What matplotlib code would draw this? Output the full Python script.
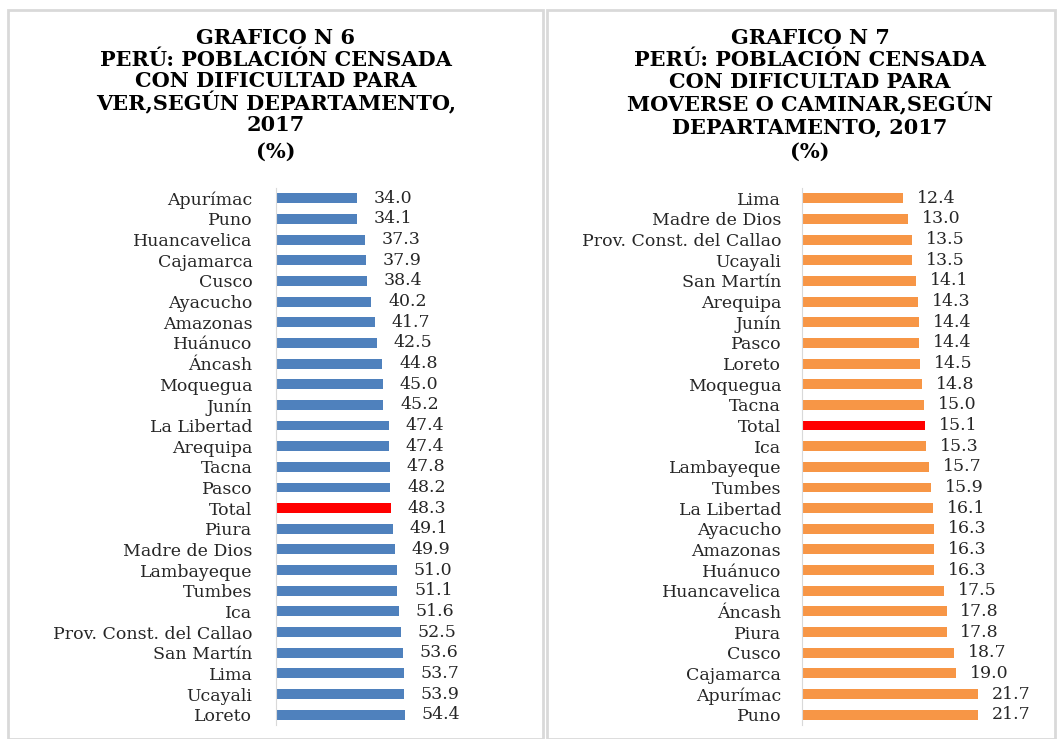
import matplotlib
matplotlib.use('Agg')
import matplotlib.pyplot as plt
from matplotlib.patches import Rectangle

# data, top to bottom as in the picture
ver_deptos = ["Apurímac", "Puno", "Huancavelica", "Cajamarca", "Cusco", "Ayacucho",
              "Amazonas", "Huánuco", "Áncash", "Moquegua", "Junín", "La Libertad",
              "Arequipa", "Tacna", "Pasco", "Total", "Piura", "Madre de Dios",
              "Lambayeque", "Tumbes", "Ica", "Prov. Const. del Callao", "San Martín",
              "Lima", "Ucayali", "Loreto"]
ver_pct = [34.0, 34.1, 37.3, 37.9, 38.4, 40.2, 41.7, 42.5, 44.8, 45.0, 45.2, 47.4,
           47.4, 47.8, 48.2, 48.3, 49.1, 49.9, 51.0, 51.1, 51.6, 52.5, 53.6, 53.7,
           53.9, 54.4]

mov_deptos = ["Lima", "Madre de Dios", "Prov. Const. del Callao", "Ucayali", "San Martín",
              "Arequipa", "Junín", "Pasco", "Loreto", "Moquegua", "Tacna", "Total", "Ica",
              "Lambayeque", "Tumbes", "La Libertad", "Ayacucho", "Amazonas", "Huánuco",
              "Huancavelica", "Áncash", "Piura", "Cusco", "Cajamarca", "Apurímac", "Puno"]
mov_pct = [12.4, 13.0, 13.5, 13.5, 14.1, 14.3, 14.4, 14.4, 14.5, 14.8, 15.0, 15.1, 15.3,
           15.7, 15.9, 16.1, 16.3, 16.3, 16.3, 17.5, 17.8, 17.8, 18.7, 19.0, 21.7, 21.7]

title_ver = ["GRAFICO N 6", "PERÚ: POBLACIÓN CENSADA", "CON DIFICULTAD PARA",
             "VER,SEGÚN DEPARTAMENTO,", "2017", "(%)"]
title_mov = ["GRAFICO N 7", "PERÚ: POBLACIÓN CENSADA", "CON DIFICULTAD PARA",
             "MOVERSE O CAMINAR,SEGÚN", "DEPARTAMENTO, 2017", "(%)"]

W, H = 1059, 739
BLUE = '#4F81BD'
ORANGE = '#F79646'
RED = '#FF0000'
TXT = '#262626'
SERIF = ['DejaVu Serif']

fig = plt.figure(figsize=(W / 100, H / 100), dpi=100)


def px_box(x0, y0, x1, y1):
    # pixel box (top-left origin) -> figure fraction rect
    return [x0 / W, 1 - y1 / H, (x1 - x0) / W, (y1 - y0) / H]


# panel frames
for x0, x1 in [(8, 543), (547, 1055)]:
    fig.patches.append(Rectangle((x0 / W, 0), (x1 - x0) / W, 1 - 10 / H,
                                 transform=fig.transFigure, fill=False,
                                 edgecolor='#d9d9d9', linewidth=2))


def draw_panel(box, names, vals, color, xmax, pad, off, title_lines, cx, title_y):
    ax = fig.add_axes(px_box(*box))
    ypos = list(range(len(names)))
    colors = [RED if n == "Total" else color for n in names]
    ax.barh(ypos, vals, height=0.48, color=colors)
    ax.set_ylim(len(names) - 0.5, -0.5)
    ax.set_xlim(0, xmax)
    ax.set_yticks(ypos)
    ax.set_yticklabels(names, family=SERIF, fontsize=12.5, color=TXT)
    ax.tick_params(axis='y', length=0, pad=pad)
    ax.set_xticks([])
    for s in ['top', 'right', 'bottom']:
        ax.spines[s].set_visible(False)
    ax.spines['left'].set_color('#d9d9d9')
    for y, v in zip(ypos, vals):
        ax.annotate(f"{v:.1f}", (v, y), xytext=(off, 0), textcoords='offset points',
                    ha='left', va='center', family=SERIF, fontsize=12.5, color=TXT)
    for ty, line in zip(title_y, title_lines):
        fig.text(cx / W, 1 - ty / H, line, ha='center', va='center', family=SERIF,
                 fontsize=15, fontweight='bold', color='black')
    return ax


draw_panel((276, 188, 466, 725), ver_deptos, ver_pct, BLUE, 80, 17, 12, title_ver, 276,
           [38, 60, 81, 103, 125, 152])
draw_panel((802, 188, 1005, 725), mov_deptos, mov_pct, ORANGE, 25, 15, 10, title_mov, 810,
           [38, 60, 82, 104, 127, 152])

fig.savefig('out.png', dpi=100)
